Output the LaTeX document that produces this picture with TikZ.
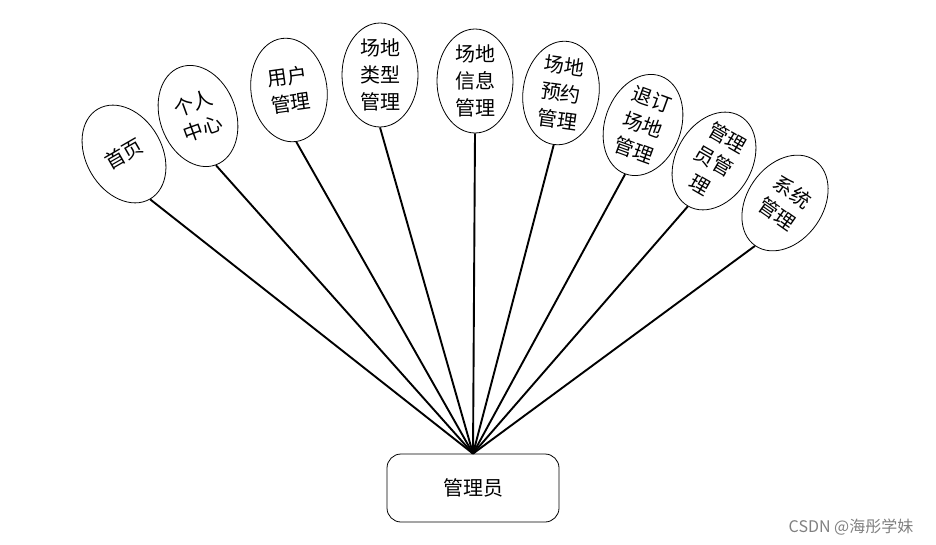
\documentclass[tikz,border=0pt]{standalone}
\usepackage{fontspec}
\setmainfont{Noto Sans CJK SC}
\usepackage{tikz}
\usetikzlibrary{shapes.geometric}

\begin{document}
\begin{tikzpicture}[x=1pt,y=-1pt,
        func/.style={draw,ellipse,line width=0.8pt,minimum width=76pt,minimum height=104pt,
            inner sep=0pt,align=center,font=\fontsize{20}{27}\selectfont},
        role/.style={draw,rounded corners=14pt,line width=0.8pt,minimum width=172pt,
            minimum height=68pt,font=\fontsize{20}{27}\selectfont},
        link/.style={line width=1.9pt}]
        \useasboundingbox (0,0) rectangle (936,545);
        \node[role] (admin) at (473,488) {管理员};
        \node[func,rotate=30] (home) at (124,154) {首页};
        \node[func,rotate=20] (center) at (198,116) {个人\\中心};
        \node[func,rotate=8] (user) at (289,90) {用户\\管理};
        \node[func] (sitetype) at (380,75) {场地\\类型\\管理};
        \node[func] (siteinfo) at (475,81) {场地\\信息\\管理};
        \node[func,rotate=-8] (booking) at (561,93) {场地\\预约\\管理};
        \node[func,rotate=-20] (cancel) at (643,125) {退订\\场地\\管理};
        \node[func,rotate=-30] (manager) at (714,161) {管理\\员管\\理};
        \node[func,rotate=-35] (system) at (785,203) {系统\\管理};
        \draw[link] (home.south) -- (admin.north);
        \draw[link] (center.south) -- (admin.north);
        \draw[link] (user.south) -- (admin.north);
        \draw[link] (sitetype.south) -- (admin.north);
        \draw[link] (siteinfo.south) -- (admin.north);
        \draw[link] (booking.south) -- (admin.north);
        \draw[link] (cancel.south) -- (admin.north);
        \draw[link] (manager.south) -- (admin.north);
        \draw[link] (system.south) -- (admin.north);
        \node[text=gray,font=\fontsize{16}{18}\selectfont] (mark) at (851,527) {CSDN @海彤学妹};
    \end{tikzpicture}
\end{document}
